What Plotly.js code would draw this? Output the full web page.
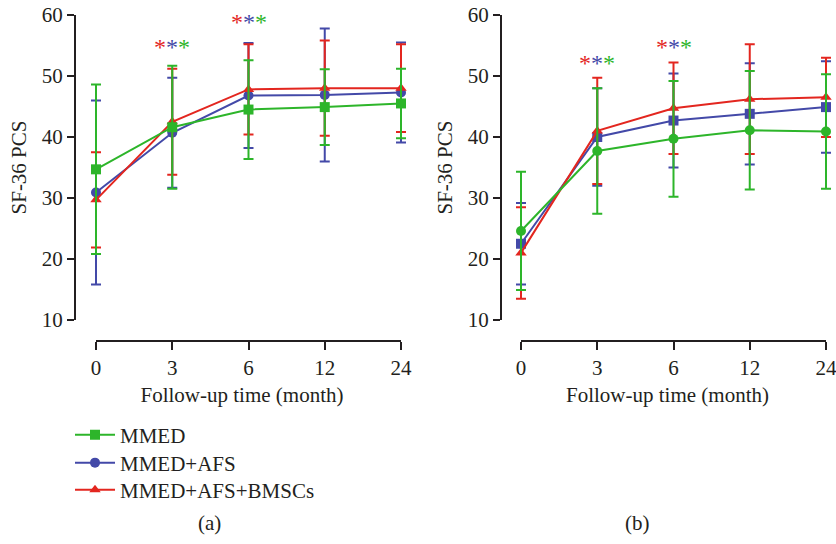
<!DOCTYPE html>
<html>
<head>
<meta charset="utf-8">
<script src="https://cdn.plot.ly/plotly-3.0.1.min.js"></script>
<style>html,body{margin:0;padding:0;background:#fff;}#chart{width:836px;height:544px;}</style>
</head>
<body>
<div id="chart"></div>
<script>
// ---- data ----
var months = ['0', '3', '6', '12', '24'];
var seriesNames = ['MMED', 'MMED+AFS', 'MMED+AFS+BMSCs'];

// Panel (a)
var a_MMED      = [34.7, 41.6, 44.5, 44.9, 45.5];
var a_MMED_sd   = [13.9, 10.1, 8.1, 6.2, 5.7];
var a_AFS       = [30.9, 40.7, 46.8, 46.9, 47.3];
var a_AFS_sd    = [15.1, 9.0, 8.6, 10.9, 8.2];
var a_BMSC      = [29.7, 42.5, 47.8, 48.0, 48.0];
var a_BMSC_sd   = [7.8, 8.7, 7.4, 7.8, 7.2];

// Panel (b)
var b_MMED      = [24.6, 37.7, 39.7, 41.1, 40.9];
var b_MMED_sd   = [9.7, 10.3, 9.5, 9.7, 9.4];
var b_AFS       = [22.5, 40.0, 42.7, 43.8, 44.9];
var b_AFS_sd    = [6.7, 8.0, 7.7, 8.3, 7.5];
var b_BMSC      = [21.0, 41.0, 44.7, 46.2, 46.5];
var b_BMSC_sd   = [7.5, 8.7, 7.5, 9.0, 6.5];

var yTitle = 'SF-36 PCS';
var xTitle = 'Follow-up time (month)';
var panelLabels = ['(a)', '(b)'];
// significance marks: [panel, category, y value]
var sigMarks = [['a', '3', 54.8], ['a', '6', 58.8], ['b', '3', 52.2], ['b', '6', 54.8]];

// ---- style ----
var GREEN = '#2db52a', BLUE = '#4349a8', RED = '#e3261f', INK = '#231f20';
var FONT = 'Liberation Serif, Times New Roman, serif';
var FS = 21;

function tr(name, y, sd, color, symbol, xa, ya, leg, showleg, rank) {
  return {
    type: 'scatter', mode: 'lines+markers', name: name,
    x: months, y: y, xaxis: xa, yaxis: ya,
    line: {color: color, width: 2},
    marker: {color: color, symbol: symbol, size: 10},
    error_y: {type: 'data', array: sd, visible: true, color: color, thickness: 2, width: 5},
    legend: leg, showlegend: showleg, legendrank: rank, cliponaxis: false
  };
}

var data = [
  tr(seriesNames[1], a_AFS, a_AFS_sd, BLUE, 'circle', 'x', 'y', 'legend2', true, 2),
  tr(seriesNames[2], a_BMSC, a_BMSC_sd, RED, 'triangle-up', 'x', 'y', 'legend3', true, 3),
  tr(seriesNames[0], a_MMED, a_MMED_sd, GREEN, 'square', 'x', 'y', 'legend', true, 1),
  tr(seriesNames[1], b_AFS, b_AFS_sd, BLUE, 'square', 'x2', 'y2', 'legend', false, 2),
  tr(seriesNames[2], b_BMSC, b_BMSC_sd, RED, 'triangle-up', 'x2', 'y2', 'legend', false, 3),
  tr(seriesNames[0], b_MMED, b_MMED_sd, GREEN, 'circle', 'x2', 'y2', 'legend', false, 1)
];

var W = 836, PH = 326, BASE = 341;
var STEP = 76.25; // px per category step
// yAxisPx: position of y axis line; firstPx: px of first category
function xax(yAxisPx, firstPx, endPx) {
  return {
    type: 'category',
    range: [-(firstPx - yAxisPx) / STEP, (endPx - firstPx) / STEP],
    domain: [yAxisPx / W, endPx / W],
    anchor: 'free', position: 0,
    showline: false,
    ticks: 'outside', ticklen: 8, tickwidth: 2, tickcolor: INK,
    showgrid: false, zeroline: false,
    tickfont: {family: FONT, size: FS, color: INK},
    title: {text: xTitle, font: {family: FONT, size: FS, color: INK}, standoff: 8}
  };
}
function yax(pos) {
  return {
    range: [10, 60], domain: [21 / PH, 1],
    anchor: 'free', position: pos / W,
    showline: true, linecolor: INK, linewidth: 2,
    ticks: 'outside', ticklen: 7, tickwidth: 2, tickcolor: INK,
    tickvals: [10, 20, 30, 40, 50, 60],
    showgrid: false, zeroline: false,
    tickfont: {family: FONT, size: FS, color: INK},
    title: {text: yTitle, font: {family: FONT, size: FS, color: INK}, standoff: 8}
  };
}

var annotations = [];
sigMarks.forEach(function (m) {
  annotations.push({
    xref: m[0] === 'a' ? 'x' : 'x2', yref: m[0] === 'a' ? 'y' : 'y2',
    x: months.indexOf(m[1]), y: m[2], showarrow: false, xanchor: 'center', yanchor: 'middle',
    text: '<span style="color:' + RED + '">*</span><span style="color:' + BLUE + '">*</span><span style="color:' + GREEN + '">*</span>',
    font: {family: FONT, size: 24}
  });
});
annotations.push({xref: 'paper', yref: 'paper', x: 210 / W, y: (BASE - 523) / PH, text: panelLabels[0],
  xanchor: 'center', yanchor: 'middle', showarrow: false, font: {family: FONT, size: FS, color: INK}});
annotations.push({xref: 'paper', yref: 'paper', x: 637 / W, y: (BASE - 523) / PH, text: panelLabels[1],
  xanchor: 'center', yanchor: 'middle', showarrow: false, font: {family: FONT, size: FS, color: INK}});

// x axis baselines spanning first to last category
var shapes = [
  {type: 'line', xref: 'x', yref: 'paper', x0: 0, x1: months.length - 1, y0: 0, y1: 0, line: {color: INK, width: 2}},
  {type: 'line', xref: 'x2', yref: 'paper', x0: 0, x1: months.length - 1, y0: 0, y1: 0, line: {color: INK, width: 2}}
];

function leg(rowPx) {
  return {x: 70 / W, y: (BASE - rowPx) / PH, xanchor: 'left', yanchor: 'middle', itemwidth: 40,
    font: {family: FONT, size: FS, color: INK}, bgcolor: 'rgba(0,0,0,0)'};
}

var layout = {
  width: 836, height: 544,
  margin: {l: 0, r: 0, t: 15, b: 203, pad: 0},
  paper_bgcolor: '#fff', plot_bgcolor: '#fff',
  xaxis: xax(75, 96, 409), yaxis: yax(75),
  xaxis2: xax(501, 521, 834), yaxis2: yax(501),
  showlegend: true,
  legend: leg(435), legend2: leg(463), legend3: leg(490),
  annotations: annotations,
  shapes: shapes
};

Plotly.newPlot('chart', data, layout, {displayModeBar: false, staticPlot: true});
</script>
</body>
</html>
